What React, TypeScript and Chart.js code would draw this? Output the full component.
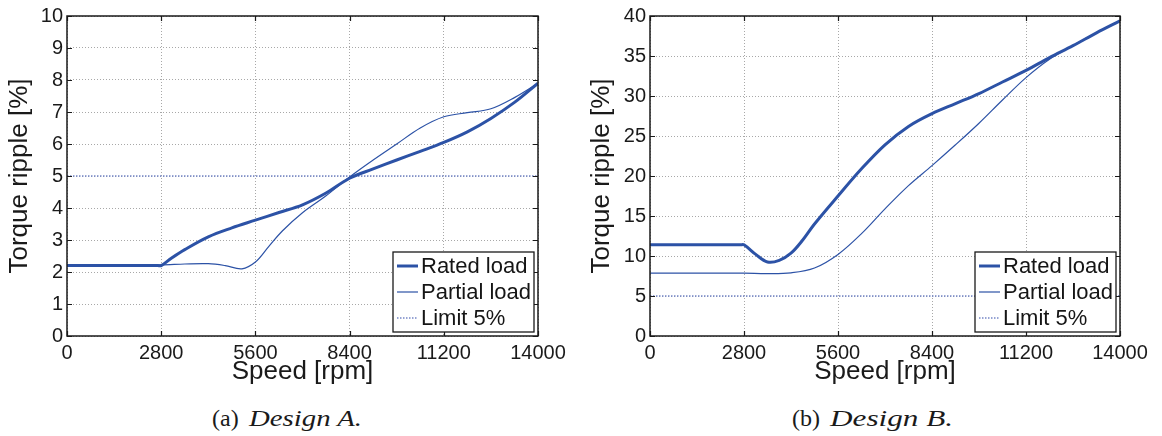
import React, { useEffect, useRef } from 'react';
import { Chart, registerables } from 'chart.js';

Chart.register(...registerables);

// ---------- data ----------
const xTickValues = [0, 2800, 5600, 8400, 11200, 14000];
const yTicksA = [0, 1, 2, 3, 4, 5, 6, 7, 8, 9, 10];
const yTicksB = [0, 5, 10, 15, 20, 25, 30, 35, 40];

const speedRatedA = [0, 1400, 2700, 2800, 3100, 3500, 4200, 4900, 5600, 6300, 7000, 7700, 8400, 9100, 9800, 10500, 11200, 11900, 12600, 13300, 14000];
const ratedA = [2.2, 2.2, 2.2, 2.2, 2.43, 2.7, 3.1, 3.38, 3.62, 3.86, 4.1, 4.47, 4.93, 5.22, 5.5, 5.77, 6.05, 6.38, 6.8, 7.3, 7.9];
const speedPartialA = [0, 1400, 2800, 3500, 4200, 4700, 5200, 5600, 6000, 6400, 7000, 7700, 8400, 9100, 9800, 10500, 11200, 11900, 12600, 13300, 14000];
const partialA = [2.22, 2.22, 2.22, 2.25, 2.26, 2.2, 2.1, 2.31, 2.8, 3.28, 3.85, 4.38, 4.97, 5.5, 6.0, 6.5, 6.85, 6.98, 7.1, 7.45, 7.9];

const speedRatedB = [0, 1400, 2700, 2800, 3150, 3500, 3850, 4200, 4550, 4900, 5600, 6300, 7000, 7700, 8400, 9100, 9800, 10500, 11200, 11900, 12600, 13300, 14000];
const ratedB = [11.4, 11.4, 11.4, 11.4, 10.2, 9.25, 9.45, 10.35, 12.0, 14.0, 17.5, 20.9, 23.9, 26.2, 27.8, 29.05, 30.3, 31.75, 33.2, 34.8, 36.3, 37.9, 39.4];
const speedPartialB = [0, 1400, 2800, 3500, 4200, 4900, 5600, 6300, 7000, 7700, 8400, 9100, 9800, 10500, 11200, 11900, 12600, 13300, 14000];
const partialB = [7.85, 7.85, 7.85, 7.8, 7.9, 8.5, 10.2, 12.8, 15.9, 18.8, 21.3, 23.9, 26.6, 29.5, 32.3, 34.6, 36.3, 37.9, 39.4];

const limitSpeed = [0, 14000];
const limitValue = [5, 5];

const seriesLabels = ['Rated load', 'Partial load', 'Limit 5%'];

// ---------- styling ----------
const BLUE = '#2c52a6';
const LIMIT_BLUE = '#7587c6';
const FONT = '"Liberation Sans", Arial, Helvetica, sans-serif';

const pts = (xs: number[], ys: number[]) => xs.map((x, i) => ({ x, y: ys[i] }));

const framePlugin = {
  id: 'matlabFrame',
  afterDatasetsDraw(chart: any) {
    const { ctx, chartArea: a, scales } = chart;
    ctx.save();
    // inward tick marks
    ctx.strokeStyle = '#1a1a1a';
    ctx.lineWidth = 1.2;
    ctx.beginPath();
    const L = 5;
    scales.x.ticks.forEach((t: any) => {
      const p = Math.round(scales.x.getPixelForValue(t.value)) + 0.5;
      ctx.moveTo(p, a.bottom);
      ctx.lineTo(p, a.bottom - L);
      ctx.moveTo(p, a.top);
      ctx.lineTo(p, a.top + L);
    });
    scales.y.ticks.forEach((t: any) => {
      const p = Math.round(scales.y.getPixelForValue(t.value)) + 0.5;
      ctx.moveTo(a.left, p);
      ctx.lineTo(a.left + L, p);
      ctx.moveTo(a.right, p);
      ctx.lineTo(a.right - L, p);
    });
    ctx.stroke();
    // box
    ctx.lineWidth = 1.5;
    ctx.strokeRect(a.left, a.top, a.right - a.left, a.bottom - a.top);

    // legend
    const w = 141;
    const h = 80;
    const bx = a.right - 4 - w;
    const by = a.bottom - 4 - h;
    ctx.fillStyle = '#ffffff';
    ctx.fillRect(bx, by, w, h);
    ctx.lineWidth = 1.3;
    ctx.strokeStyle = '#1a1a1a';
    ctx.strokeRect(bx, by, w, h);
    ctx.font = `22px ${FONT}`;
    ctx.textBaseline = 'middle';
    ctx.textAlign = 'left';
    chart.data.datasets.forEach((ds: any, i: number) => {
      const cy = by + 14 + i * 26;
      ctx.save();
      ctx.strokeStyle = ds.borderColor;
      ctx.lineWidth = ds.borderWidth;
      ctx.setLineDash(ds.borderDash || []);
      ctx.beginPath();
      ctx.moveTo(bx + 4, cy);
      ctx.lineTo(bx + 25, cy);
      ctx.stroke();
      ctx.restore();
      ctx.fillStyle = '#151515';
      ctx.fillText(ds.label, bx + 28, cy + 1);
    });
    ctx.restore();
  },
};

type PanelProps = {
  left: number;
  yAxisWidth: number;
  padRight: number;
  titleShift: number;
  yMax: number;
  yTicks: number[];
  speedRated: number[];
  rated: number[];
  speedPartial: number[];
  partial: number[];
};

const CANVAS_W = 581;
const CANVAS_H = 390;

function Panel(p: PanelProps) {
  const ref = useRef<HTMLCanvasElement | null>(null);
  useEffect(() => {
    if (!ref.current) return;
    const chart = new Chart(ref.current, {
      type: 'line',
      data: {
        datasets: [
          {
            label: seriesLabels[0],
            data: pts(p.speedRated, p.rated),
            borderColor: BLUE,
            borderWidth: 3,
            pointRadius: 0,
            tension: 0.35,
            fill: false,
          },
          {
            label: seriesLabels[1],
            data: pts(p.speedPartial, p.partial),
            borderColor: BLUE,
            borderWidth: 1.2,
            pointRadius: 0,
            tension: 0.35,
            fill: false,
          },
          {
            label: seriesLabels[2],
            data: pts(limitSpeed, limitValue),
            borderColor: LIMIT_BLUE,
            borderWidth: 1.6,
            borderDash: [1.5, 1.5],
            pointRadius: 0,
            fill: false,
          },
        ],
      } as any,
      options: {
        animation: false,
        responsive: false,
        devicePixelRatio: 1,
        layout: { padding: { top: 14, right: p.padRight, left: 0, bottom: 0 } },
        plugins: { legend: { display: false }, tooltip: { enabled: false } },
        scales: {
          x: {
            type: 'linear',
            min: 0,
            max: 14000,
            afterBuildTicks: (s: any) => {
              s.ticks = xTickValues.map((v) => ({ value: v }));
            },
            afterFit: (s: any) => {
              s.height = CANVAS_H - 336;
            },
            ticks: {
              autoSkip: false,
              maxRotation: 0,
              padding: 5,
              color: '#1a1a1a',
              font: { family: FONT, size: 20 },
              callback: (v: any) => String(v),
            },
            grid: { color: '#a8a8a8', lineWidth: 1, drawTicks: false },
            border: { display: false, dash: [1, 2] },
            title: {
              display: true,
              text: 'Speed [rpm]',
              color: '#1a1a1a',
              font: { family: FONT, size: 26 },
              padding: { top: 0, bottom: 3 },
            },
          },
          y: {
            type: 'linear',
            min: 0,
            max: p.yMax,
            afterBuildTicks: (s: any) => {
              s.ticks = p.yTicks.map((v) => ({ value: v }));
            },
            afterFit: (s: any) => {
              s.width = p.yAxisWidth;
            },
            ticks: {
              autoSkip: false,
              padding: 4,
              color: '#1a1a1a',
              font: { family: FONT, size: 20 },
              callback: (v: any) => String(v),
            },
            grid: { color: '#a8a8a8', lineWidth: 1, drawTicks: false },
            border: { display: false, dash: [1, 2] },
            title: {
              display: true,
              text: 'Torque ripple [%]',
              color: '#1a1a1a',
              font: { family: FONT, size: 26 },
              padding: { top: p.titleShift, bottom: 0 },
            },
          },
        },
      } as any,
      plugins: [framePlugin],
    });
    return () => chart.destroy();
  }, []);
  return (
    <canvas
      ref={ref}
      width={CANVAS_W}
      height={CANVAS_H}
      style={{ position: 'absolute', left: p.left, top: 0, width: CANVAS_W, height: CANVAS_H, display: 'block' }}
    />
  );
}

const captionStyle: React.CSSProperties = {
  position: 'absolute',
  top: 406,
  fontFamily: '"Liberation Serif", "Times New Roman", serif',
  fontSize: 24,
  lineHeight: '24px',
  whiteSpace: 'nowrap',
  color: '#1a1a1a',
};

export default function App() {
  return (
    <div style={{ position: 'fixed', left: 0, top: 0, width: 1162, height: 436, background: '#ffffff', overflow: 'hidden' }}>
      <Panel
        left={0}
        yAxisWidth={67}
        padRight={43}
        titleShift={4}
        yMax={10}
        yTicks={yTicksA}
        speedRated={speedRatedA}
        rated={ratedA}
        speedPartial={speedPartialA}
        partial={partialA}
      />
      <Panel
        left={581}
        yAxisWidth={69}
        padRight={42}
        titleShift={5}
        yMax={40}
        yTicks={yTicksB}
        speedRated={speedRatedB}
        rated={ratedB}
        speedPartial={speedPartialB}
        partial={partialB}
      />
      <div style={{ ...captionStyle, left: 212 }}>
        (a){' '}
        <span style={{ display: 'inline-block', fontStyle: 'italic', marginLeft: 4, transform: 'scaleX(1.2)', transformOrigin: 'left center' }}>
          Design A.
        </span>
      </div>
      <div style={{ ...captionStyle, left: 792 }}>
        (b){' '}
        <span style={{ display: 'inline-block', fontStyle: 'italic', marginLeft: 4, transform: 'scaleX(1.3)', transformOrigin: 'left center' }}>
          Design B.
        </span>
      </div>
    </div>
  );
}
